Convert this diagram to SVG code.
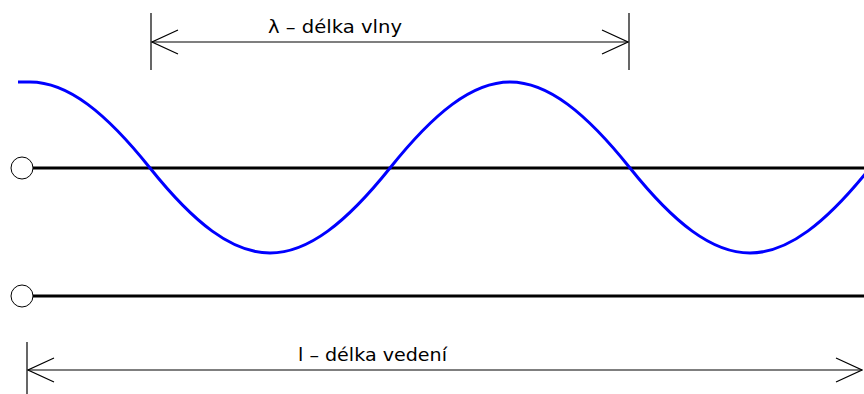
<svg xmlns="http://www.w3.org/2000/svg" width="864" height="394" viewBox="0 0 864 394">
<style>
.ln{stroke:#000;stroke-width:3;fill:none}
.dim{stroke:#000;stroke-width:1.2;fill:none}
.term{stroke:#000;stroke-width:1;fill:#fff}
.wave{stroke:#0000ff;stroke-width:3;fill:none}
.lbl{font-family:"DejaVu Sans",sans-serif;font-size:18px;fill:#000}
</style>
<defs>
<marker id="ah" viewBox="0 0 30 26" refX="29" refY="13" markerWidth="30" markerHeight="26" markerUnits="userSpaceOnUse" orient="auto-start-reverse">
<path d="M3,1 L29,13 L3,25" stroke="#000" stroke-width="1.2" fill="none"/>
</marker>
</defs>
<g id="connectors">
<line class="ln" x1="33" y1="168" x2="864" y2="168"/>
<line class="ln" x1="33" y1="296" x2="864" y2="296"/>
<line class="dim" x1="151" y1="13" x2="151" y2="70"/>
<line class="dim" x1="629" y1="13" x2="629" y2="70"/>
<line class="dim" x1="152" y1="42" x2="628" y2="42" marker-start="url(#ah)" marker-end="url(#ah)"/>
<line class="dim" x1="27" y1="342" x2="27" y2="394"/>
<line class="dim" x1="28" y1="370" x2="862" y2="370" marker-start="url(#ah)" marker-end="url(#ah)"/>
</g>
<g id="wave">
<path class="wave" d="M18,82 C22,82 26,82 30,82 C68,82 106,113 150,168 C194,223 232,253 270,253 C308,253 346,223 390,168 C434,113 472,82 510,82 C548,82 586,113 630,168 C674,223 712,253 750,253 C788,253 826,223 870,168"/>
</g>
<g id="terminal-top"><circle class="term" cx="22" cy="168" r="11"/></g>
<g id="terminal-bottom"><circle class="term" cx="22" cy="296" r="11"/></g>
<g id="label-lambda"><text class="lbl" x="268" y="33" textLength="134" lengthAdjust="spacingAndGlyphs">λ – délka vlny</text></g>
<g id="label-l"><text class="lbl" x="298" y="361" textLength="149" lengthAdjust="spacingAndGlyphs">l – délka vedení</text></g>
</svg>
